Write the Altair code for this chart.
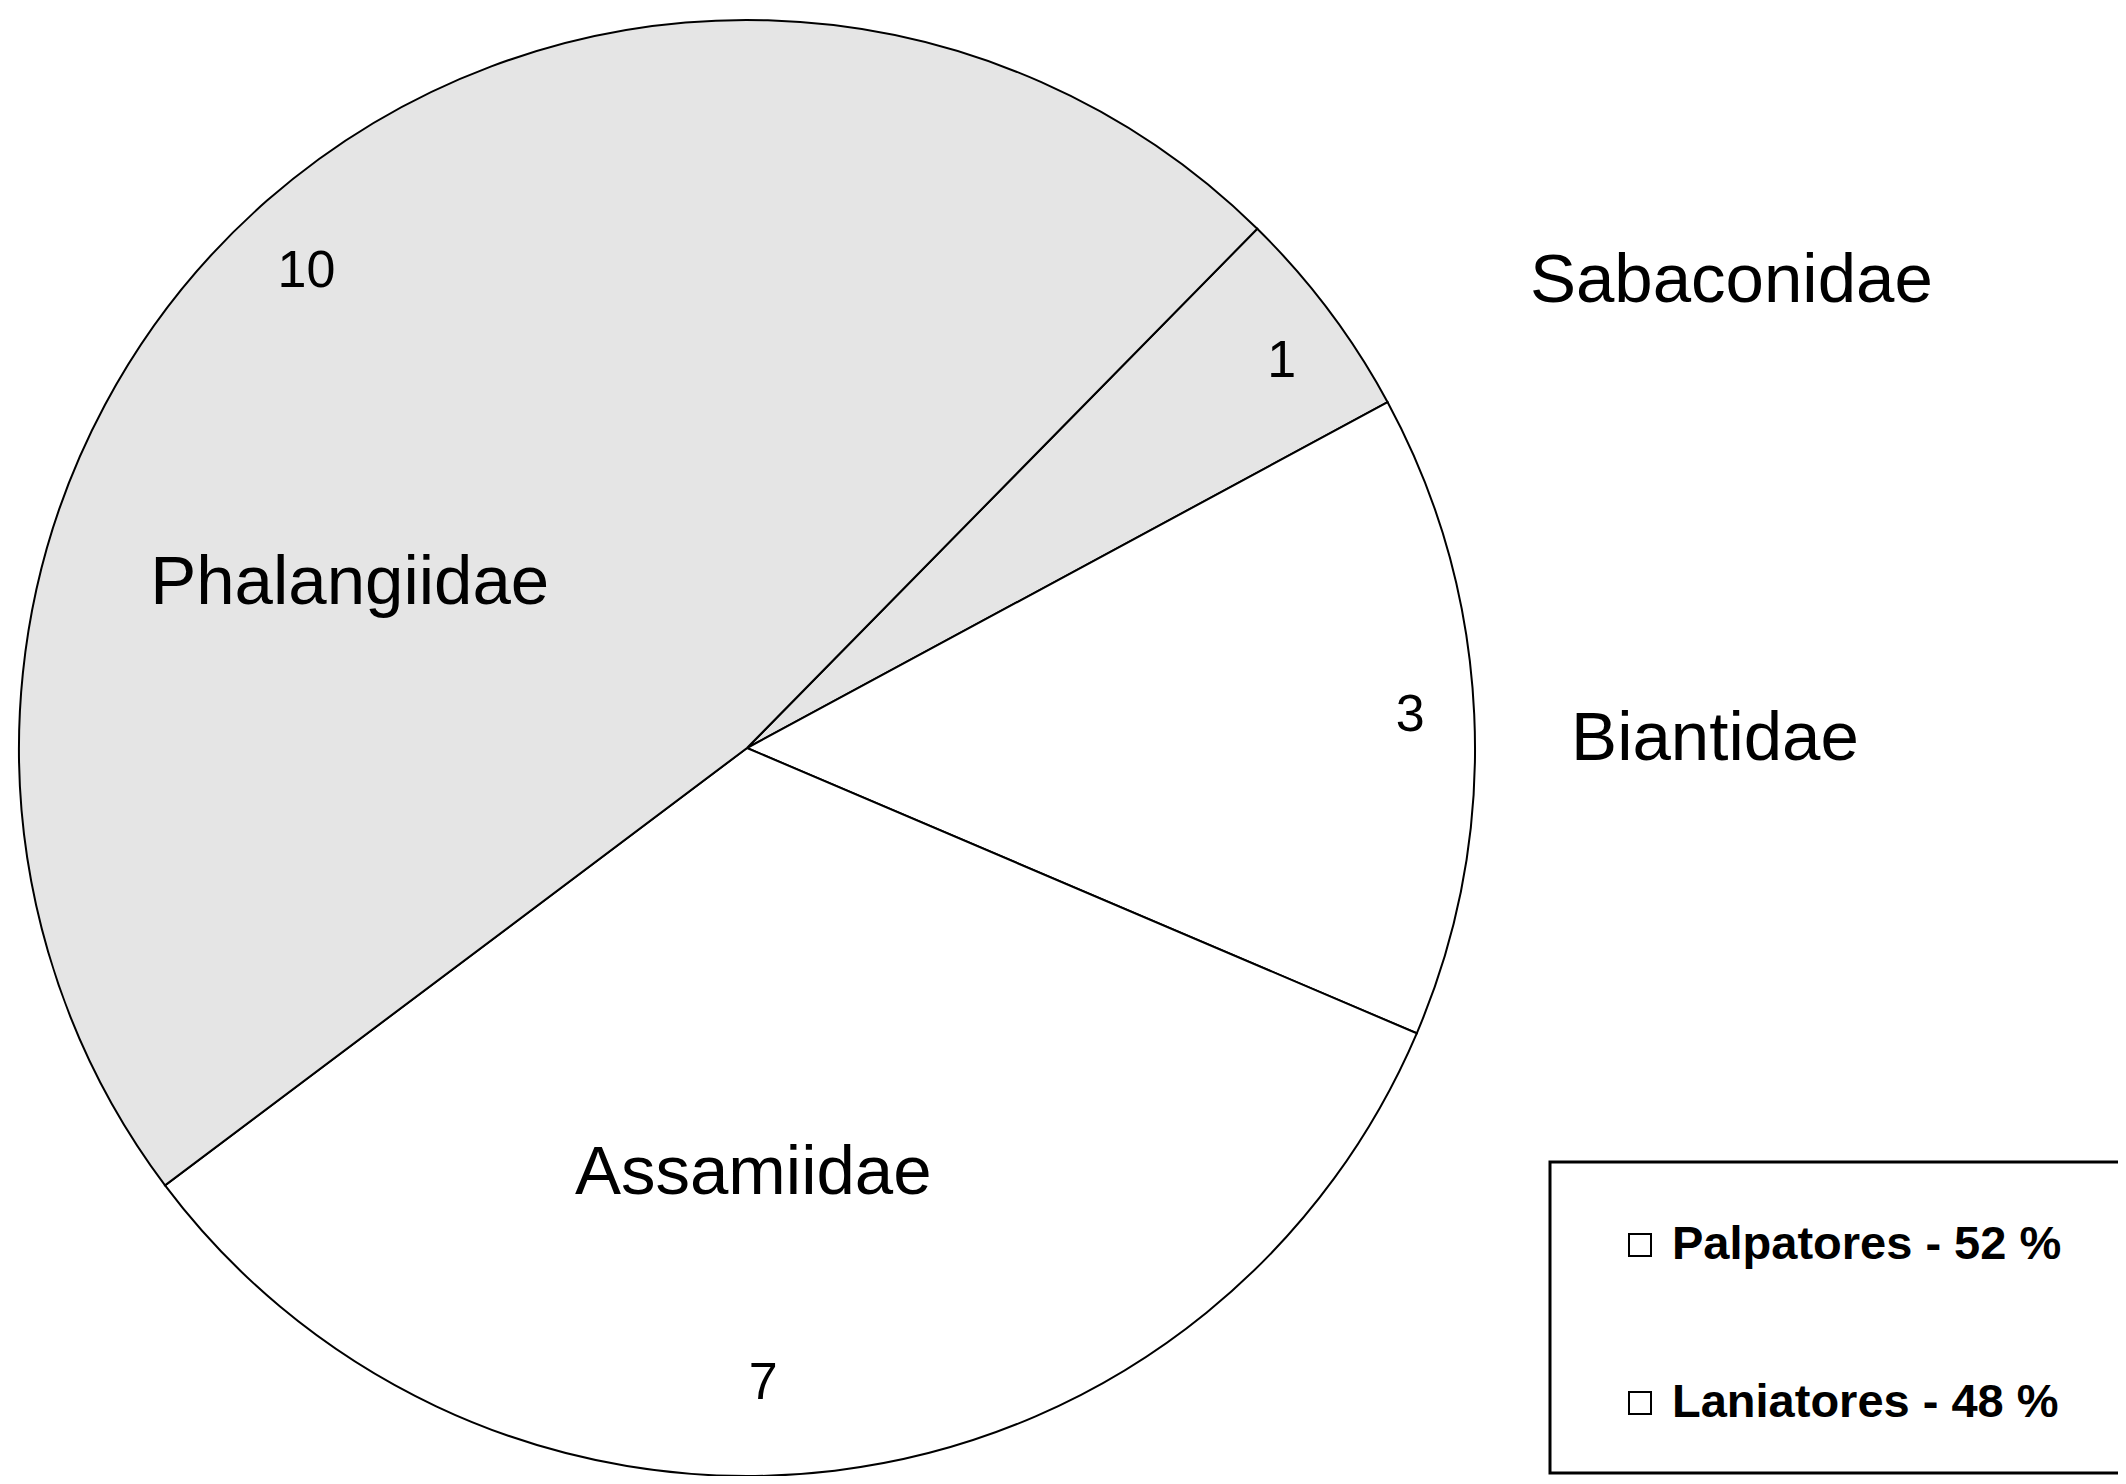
import math
import altair as alt
import pandas as pd

# ---- data ----
families = ["Sabaconidae", "Biantidae", "Assamiidae", "Phalangiidae"]
counts = [1, 3, 7, 10]
suborders = ["Palpatores", "Laniatores", "Laniatores", "Palpatores"]
suborder_names = ["Palpatores", "Laniatores"]

df = pd.DataFrame({
    "family": families,
    "count": counts,
    "suborder": suborders,
    "idx": list(range(len(families))),
})
total = sum(counts)
legend_df = pd.DataFrame({"suborder": suborder_names})
legend_df["label"] = [
    f"{s} - {round(100 * df.loc[df.suborder == s, 'count'].sum() / total)} %"
    for s in suborder_names
]

# ---- styling / layout ----
FONT = "Liberation Sans"
CX, CY, R = 739, 740, 728
START = math.radians(44.5)

theta_enc = alt.Theta("count:Q", stack=True,
                      scale=alt.Scale(range=[START, START + 2 * math.pi]))
base = alt.Chart(df).encode(
    theta=theta_enc,
    order=alt.Order("idx:Q"),
    x=alt.value(CX),
    y=alt.value(CY),
)

pie = base.mark_arc(radius=R, stroke="black", strokeWidth=2).encode(
    color=alt.Color("suborder:N",
                    scale=alt.Scale(domain=suborder_names, range=["#e5e5e5", "#ffffff"]),
                    legend=None)
)


def label(fam, field, radius, dx, dy, size):
    return base.transform_calculate(
        lbl=f"datum.family == '{fam}' ? '' + datum['{field}'] : ''"
    ).mark_text(
        radius=radius, dx=dx, dy=dy, fontSize=size, font=FONT, color="black",
        align="center", baseline="middle"
    ).encode(text="lbl:N")


NUM = 52
NAME = 69
labels = [
    label("Phalangiidae", "count", 655, -9, 16, NUM),
    label("Sabaconidae", "count", 655, 11, 7, NUM),
    label("Biantidae", "count", 655, 9, -3, NUM),
    label("Assamiidae", "count", 640, -61, 0, NUM),
    label("Phalangiidae", "family", 430, -114, 158, NAME),
    label("Assamiidae", "family", 425, -45, 3, NAME),
    label("Biantidae", "family", 968, 1, 36, NAME),
    label("Sabaconidae", "family", 1000, 185, 134, NAME),
]

box = alt.Chart(pd.DataFrame({"a": [0]})).mark_rect(
    fill="white", stroke="black", strokeWidth=3
).encode(
    x=alt.value(1542), x2=alt.value(2140), y=alt.value(1154), y2=alt.value(1465)
)

leg_y = alt.Y("suborder:N",
              scale=alt.Scale(type="point", domain=suborder_names,
                              range=[1237, 1395], padding=0),
              axis=None)
leg_sym = alt.Chart(legend_df).mark_square(
    size=484, filled=True, fill="white", stroke="black", strokeWidth=2, opacity=1
).encode(x=alt.value(1632), y=leg_y)
leg_txt = alt.Chart(legend_df).mark_text(
    align="left", baseline="middle", fontSize=47, fontWeight="bold",
    font=FONT, color="black"
).encode(x=alt.value(1664), y=leg_y, text="label:N")

chart = alt.layer(pie, *labels, box, leg_sym, leg_txt).properties(
    width=2110, height=1468, padding=0,
    autosize=alt.AutoSizeParams(type="none"),
    background="white",
).configure_view(stroke=None)

chart.save("out.html", embed_options={"renderer": "svg", "actions": False})
